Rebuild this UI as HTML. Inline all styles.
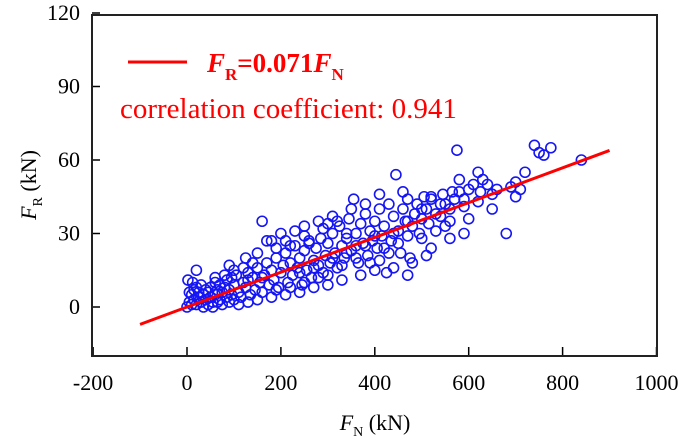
<!DOCTYPE html>
<html><head><meta charset="utf-8"><style>
body{margin:0;background:#fff;position:relative;width:685px;height:444px;}
svg{display:block;font-family:"Liberation Serif",serif;}
#frame{position:absolute;left:91px;top:14px;width:563px;height:339px;border:2px solid #222;pointer-events:none;}
</style></head><body>
<svg id="chart" width="685" height="444">
<g id="ticks"></g>
<g id="pts"></g>
<line id="fit" stroke="#f00" stroke-width="3"/>
<g>
<line x1="128" y1="62" x2="187" y2="62" stroke="#f00" stroke-width="3"/>
<text x="207" y="72" fill="#f00" font-size="27" font-weight="bold"><tspan font-style="italic">F</tspan><tspan font-size="17" dy="8">R</tspan><tspan dy="-8">=0.071</tspan><tspan font-style="italic">F</tspan><tspan font-size="17" dy="8">N</tspan></text>
<text x="120" y="118" fill="#f00" font-size="29">correlation coefficient: 0.941</text>
</g>
<text x="375" y="430" text-anchor="middle" font-size="22"><tspan font-style="italic">F</tspan><tspan font-size="14" dy="6">N</tspan><tspan dy="-6"> (kN)</tspan></text>
<text transform="translate(36,185) rotate(-90)" text-anchor="middle" font-size="22"><tspan font-style="italic">F</tspan><tspan font-size="14" dy="6">R</tspan><tspan dy="-6"> (kN)</tspan></text>
</svg>
<div id="frame"></div>
<script>
const xTicks=[-200,0,200,400,600,800,1000];
const yTicks=[0,30,60,90,120];
const slope=0.071;
const fitRange=[-100,900];
const fnVals=[0,5,10,15,20,25,30,35,40,45,50,55,60,65,70,75,80,85,90,95,100,2,12,20,30,40,50,60,10,25,45,65,75,90,100,5,15,35,55,70,85,95,105,110,115,120,125,130,135,140,145,150,155,160,160,165,170,175,180,185,190,195,200,205,210,215,220,225,230,235,240,245,250,255,260,265,270,275,280,285,290,295,300,305,310,315,320,325,330,335,340,345,350,355,360,365,370,375,380,385,390,395,400,405,410,415,420,425,430,435,440,445,450,455,460,465,470,475,480,485,490,495,500,505,510,515,520,530,540,545,550,560,565,575,580,590,600,610,620,625,640,650,680,690,700,720,740,750,760,775,840,600,560,520,480,430,400,370,330,300,270,240,210,180,150,130,110,200,230,250,280,310,320,290,260,220,190,170,140,120,100,80,60,240,270,300,330,360,390,420,450,470,500,530,560,590,620,650,570,520,460,410,380,350,300,250,210,180,150,125,90,20,550,590,510,470,440,410,380,340,310,280,250,220,190,160,130,340,360,400,440,470,500,540,580,630,660,700,710];
const frVals=[0,2,1,3,1,4,2,5,3,6,4,2,5,7,3,6,8,4,7,5,9,11,10,8,9,7,8,10,5,6,1,2,1,2,3,6,7,0,0,9,11,12,13,6,4,10,8,14,5,12,7,16,10,35,6,13,18,9,15,11,20,8,14,17,22,10,18,13,25,16,20,9,23,15,27,12,19,24,17,28,14,21,26,18,30,22,16,33,25,20,28,36,23,44,30,18,34,26,38,21,31,27,35,24,40,29,33,14,42,27,37,54,31,22,40,35,44,20,33,38,42,30,36,45,40,34,44,31,37,46,42,35,47,64,52,44,48,50,55,47,50,46,30,49,45,55,66,63,62,65,60,36,28,24,18,22,15,13,11,9,8,6,5,4,3,2,1,30,31,33,35,37,35,32,26,25,24,27,18,16,15,13,12,14,16,13,17,20,18,24,26,29,28,38,40,41,43,40,44,45,47,46,42,40,34,29,27,27,22,20,17,15,33,30,21,13,16,19,25,22,20,12,10,8,7,12,11,30,25,29,30,35,40,42,47,52,48,51,48];
const X=v=>187+(v)*0.4695, Y=v=>307-v*2.45;
const svg=document.getElementById('chart'),NS='http://www.w3.org/2000/svg';
const tg=document.getElementById('ticks'),pg=document.getElementById('pts');
function mk(tag,a,p){const e=document.createElementNS(NS,tag);for(const k in a)e.setAttribute(k,a[k]);p.appendChild(e);return e;}
xTicks.forEach(t=>{const x=X(t);
 const l=mk('line',{x1:x,x2:x,y1:355,y2:347,stroke:'#000','stroke-width':1.5},tg);
 
 
 const s=mk('text',{x:x,y:390,'text-anchor':'middle','font-size':22},tg);s.textContent=t;
 
 
});
yTicks.forEach(t=>{const y=Y(t);
 const l=mk('line',{x1:92,x2:100,y1:y,y2:y,stroke:'#000','stroke-width':1.5},tg);
 
 
 const s=mk('text',{x:80,y:y+7,'text-anchor':'end','font-size':22},tg);s.textContent=t;
 
 
});
fnVals.forEach((v,i)=>{
 const c=mk('circle',{cx:X(v),cy:Y(frVals[i]),r:5,fill:'none',stroke:'#1515f5','stroke-width':1.6},pg);
 
 
});
const f=document.getElementById('fit');
f.setAttribute('x1',X(fitRange[0]));f.setAttribute('y1',Y(slope*fitRange[0]));
f.setAttribute('x2',X(fitRange[1]));f.setAttribute('y2',Y(slope*fitRange[1]));
</script>
</body></html>
